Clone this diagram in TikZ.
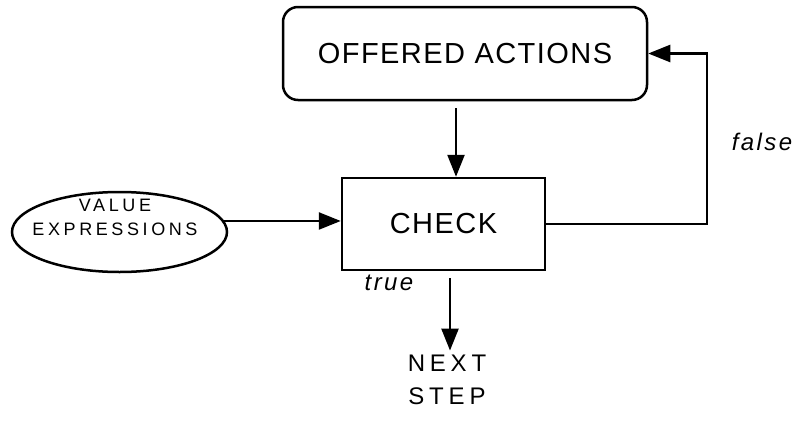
\documentclass[tikz,border=0pt]{standalone}
\usepackage{fontspec}
\setmainfont{Liberation Sans}
\newfontfamily\fbig[LetterSpace=5]{Liberation Sans}
\newfontfamily\fwide[LetterSpace=20]{Liberation Sans}
\newfontfamily\fcond[LetterSpace=10]{Liberation Sans}
\usetikzlibrary{arrows.meta,shapes.geometric}
\begin{document}
\begin{tikzpicture}[x=1pt,y=-1pt,line width=2.5pt,
  conn/.style={-{Triangle[length=22pt,width=17pt]}},
  box/.style={draw,inner sep=0pt},
  bigtext/.style={font=\fbig\fontsize{29}{31}\selectfont},
  smalltext/.style={font=\fwide\fontsize{18}{27}\selectfont,align=center},
  steptext/.style={font=\fwide\fontsize{24}{33}\selectfont,align=center},
  condtext/.style={font=\fcond\itshape\fontsize{24}{26}\selectfont}]
\useasboundingbox (0,0) rectangle (804,421);
\node[box,rounded corners=15pt,minimum width=364pt,minimum height=93pt,bigtext] (off) at (465,53.5) {OFFERED ACTIONS};
\node[box,minimum width=203pt,minimum height=92pt,bigtext] (chk) at (443.5,224) {CHECK};
\node[box,ellipse,minimum width=215pt,minimum height=80pt] (val) at (119.5,232) {};
\node[smalltext] (valtxt) at (115,217) {VALUE\\[-3pt]EXPRESSIONS};
\node[steptext] (nxt) at (447,380) {NEXT\\STEP};
\node[condtext] (fls) at (762,142) {false};
\node[condtext] (tru) at (389,283) {true};
\coordinate (c1) at (456,0);
\coordinate (c2) at (450,0);
\coordinate (fb) at (707,53.5);
\draw[conn] (val.6) -- (val.6 -| chk.west);
\draw[conn,shorten <=7pt] (off.south -| c1) -- (chk.north -| c1);
\draw[conn,shorten <=7pt] (chk.south -| c2) -- (nxt.north -| c2);
\draw[conn] (chk.east) -| (fb) -- (off.east);
\end{tikzpicture}
\end{document}
